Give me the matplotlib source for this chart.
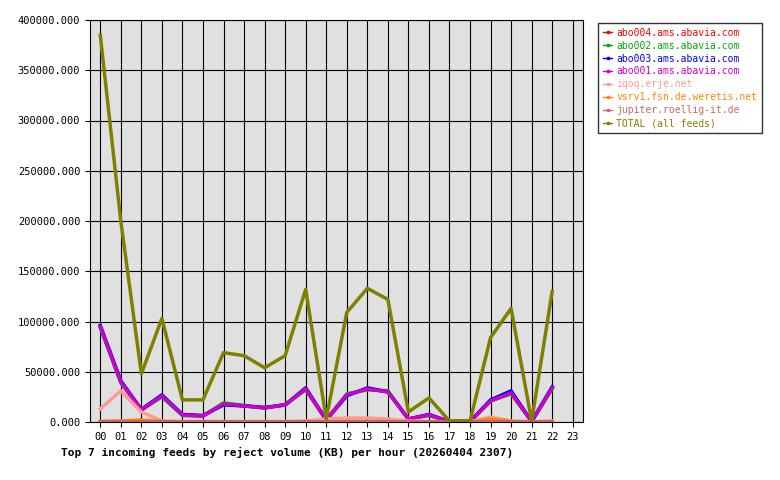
import matplotlib
matplotlib.use("Agg")
import matplotlib.pyplot as plt
from matplotlib.lines import Line2D

hours = ["%02d" % h for h in range(24)]
total = [385000, 200000, 48000, 103000, 22000, 22000, 69000, 66000, 54000, 66000, 132000, 3000,
         109000, 133000, 122000, 10000, 24000, 1000, 1000, 84000, 113000, 1000, 130000]
abo004 = [95000, 40000, 12000, 26000, 7000, 6000, 18000, 16000, 14000, 17000, 33000, 2000,
          27000, 33000, 30000, 3000, 7000, 500, 500, 21000, 29000, 500, 34000]
abo002 = [94000, 39000, 12000, 25000, 6500, 6000, 19000, 16500, 14000, 17500, 32000, 2000,
          28000, 32000, 31000, 3000, 6500, 500, 500, 21000, 28000, 500, 33000]
abo003 = [96000, 41000, 12500, 27000, 7500, 6500, 17000, 16000, 14500, 17000, 34000, 2000,
          26000, 34000, 30000, 3000, 7500, 500, 500, 22000, 31000, 500, 35000]
abo001 = [95000, 40000, 12000, 26000, 7000, 6000, 18000, 16000, 14000, 17000, 33000, 2000,
          27000, 33000, 30000, 3000, 7000, 500, 500, 21000, 29000, 500, 34000]
iqoq = [13000, 31000, 10000, 1000, 500, 500, 500, 500, 500, 500, 1000, 3000,
        4000, 4000, 3000, 1000, 500, 200, 200, 5000, 1000, 200, 1000]
vsrv1 = [500, 1000, 2000, 500, 300, 300, 300, 300, 300, 300, 500, 300,
         500, 500, 500, 300, 300, 100, 100, 3000, 500, 100, 500]
jupiter = [300, 500, 500, 300, 200, 200, 200, 200, 200, 200, 300, 200,
           300, 300, 300, 200, 200, 100, 100, 500, 300, 100, 300]

series = [
    ("abo004.ams.abavia.com", abo004, "#ff0000"),
    ("abo002.ams.abavia.com", abo002, "#00aa00"),
    ("abo003.ams.abavia.com", abo003, "#0000ff"),
    ("abo001.ams.abavia.com", abo001, "#cc00cc"),
    ("iqoq.erje.net", iqoq, "#ff9999"),
    ("vsrv1.fsn.de.weretis.net", vsrv1, "#ff8800"),
    ("jupiter.roellig-it.de", jupiter, "#cc6666"),
    ("TOTAL (all feeds)", total, "#808000"),
]

plt.rcParams["font.family"] = "DejaVu Sans Mono"
fig = plt.figure(figsize=(7.8, 4.8), dpi=100)
ax = fig.add_axes([90/780, 58/480, 493/780, 402/480])
ax.set_facecolor("#e0e0e0")
x = list(range(len(total)))
for name, vals, col in series:
    ax.plot(x, vals, color=col, lw=2.5)
ax.set_xlim(-0.5, 23.5)
ax.set_ylim(0, 400000)
ax.set_xticks(range(24))
ax.set_xticklabels(hours, fontsize=7.5)
ax.set_yticks(range(0, 400001, 50000))
ax.set_yticklabels(["%d.000" % v for v in range(0, 400001, 50000)], fontsize=7.5)
ax.grid(True, color="black", lw=0.8)
ax.set_axisbelow(True)
ax.set_xlabel("Top 7 incoming feeds by reject volume (KB) per hour (20260404 2307)",
              fontsize=8, fontweight="bold", labelpad=4, x=0.4)

handles = [Line2D([], [], color=c, lw=1, marker="s", markersize=2) for _, _, c in series]
leg = fig.legend(handles, [n for n, _, _ in series], loc="upper left",
                 bbox_to_anchor=(593/780, 1 - 18/480),
                 fontsize=7, frameon=True, fancybox=False, edgecolor="black",
                 handlelength=1.0, handletextpad=0.4, borderpad=0.5, labelspacing=0.3)
for t, (_, _, col) in zip(leg.get_texts(), series):
    t.set_color(col)
fig.savefig("out.png", dpi=100)
